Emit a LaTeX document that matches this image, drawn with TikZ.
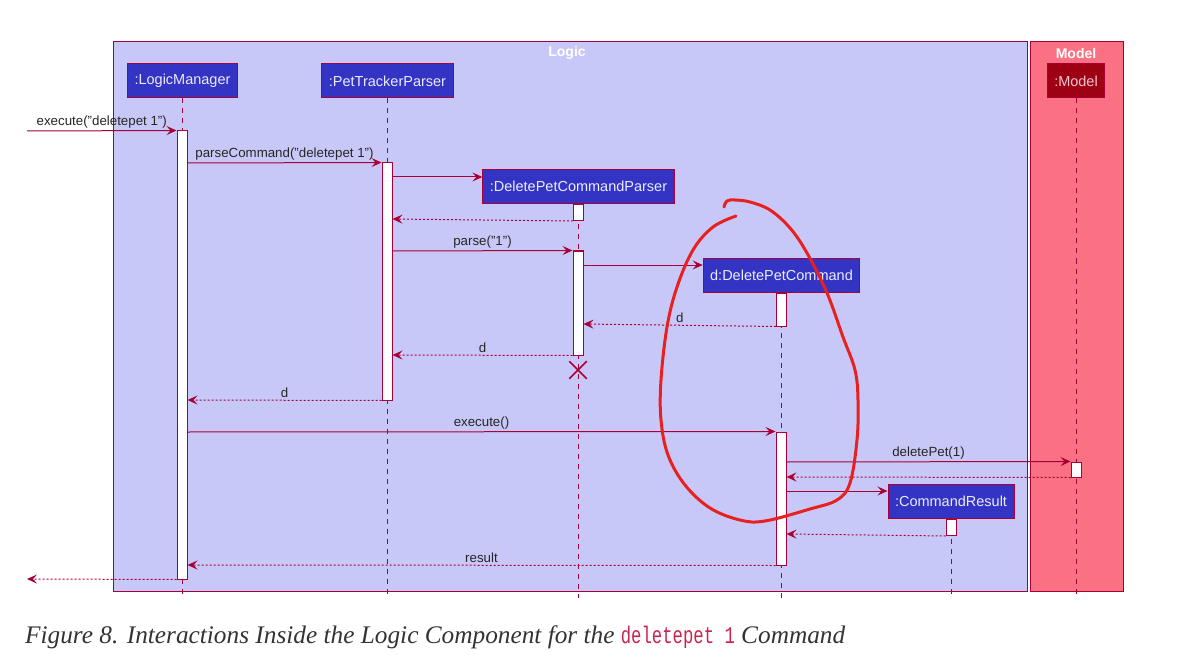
\documentclass[tikz,border=0pt]{standalone}
\usepackage{fontspec}
\setmainfont{Liberation Sans}
\newfontfamily\capfont{Liberation Serif}
\newfontfamily\codefont[FakeStretch=0.72]{Liberation Mono}
\usetikzlibrary{arrows.meta, positioning, shapes.misc}
\definecolor{crim}{HTML}{A80036}
\definecolor{logicbg}{HTML}{C8C8F8}
\definecolor{modelbg}{HTML}{F97182}
\definecolor{partblue}{HTML}{3333C4}
\definecolor{parttext}{HTML}{ECECFF}
\definecolor{modelbox}{HTML}{9E0014}
\definecolor{modeltext}{HTML}{F4C8D0}
\definecolor{pen}{HTML}{E82020}
\definecolor{codered}{HTML}{C7254E}
\tikzset{
  part/.style={draw=crim, fill=partblue, text=parttext, font=\fontsize{14.5}{16}\selectfont, line width=1pt, minimum height=34pt, inner xsep=7pt},
  act/.style={draw=crim, fill=white, line width=1pt, minimum width=10pt, inner sep=0pt},
  life/.style={draw=crim, line width=1pt, dash pattern=on 5pt off 5pt},
  msg/.style={draw=crim, line width=1pt, -{Stealth[length=10pt, width=9pt, inset=4pt]}},
  ret/.style={msg, dash pattern=on 2pt off 2pt},
  lbl/.style={draw=none, fill=none, text=black!85, font=\fontsize{13.3}{15}\selectfont, inner sep=2pt},
  ftitle/.style={text=white, font=\bfseries\fontsize{14}{16}\selectfont}
}

\begin{document}
\begin{tikzpicture}[x=1pt, y=-1pt]
  \useasboundingbox (0,0) rectangle (1178,655);
  % Frames
  \filldraw[fill=logicbg, draw=crim, line width=1pt] (113,42) rectangle (1027,591);
  \filldraw[fill=modelbg, draw=crim, line width=1pt] (1030,42) rectangle (1123,591);
  \node (logicT) [ftitle] at (567,53) {Logic};
  \node (modelT) [ftitle] at (1076,53) {Model};

  % Nodes
  \node (lm) [part] at (182.5,81) {:LogicManager};
  \node (ptp) [part] at (387.5,81) {:PetTrackerParser};
  \node (dpcp) [part] at (578.5,186.5) {:DeletePetCommandParser};
  \node (dpc) [part] at (781.5,275) {d:DeletePetCommand};
  \node (cr) [part] at (951,501.5) {:CommandResult};
  \node (model) [part, fill=modelbox, text=modeltext] at (1076,81) {:Model};

  \coordinate (bot) at (0,598);
  \foreach \p in {lm, ptp, dpcp, dpc, cr, model}
    \draw[life] (\p.south) -- (\p.south |- bot);

  % Activation bars
  \node (lmA) [act, minimum height=448] at (182,355) {};
  \node (ptpA) [act, minimum height=237] at (387,281.5) {};
  \node (dpcpA1) [act, minimum height=16, below=0pt of dpcp] {};
  \node (dpcpA2) [act, minimum height=104] at (578,303) {};
  \node (dpcA1) [act, minimum height=33, below=0pt of dpc] {};
  \node (dpcA2) [act, minimum height=133] at (781,498.5) {};
  \node (modelA) [act, minimum height=15] at (1076,469.5) {};
  \node (crA) [act, minimum height=16, below=0pt of cr] {};
  \node (destroy) [cross out, draw=crim, line width=1.5pt, minimum size=16pt, inner sep=0pt] at (578,370) {};

  % Messages
  \coordinate (in) at (27,131);
  \coordinate (out) at (27,579);
  \foreach \m/\y in {m2/163, m3/177, m4/219, m5/251, m6/265, m7/324, m8/355, m9/400,
                     m10/432, m11/462, m12/477, m13/491, m14/534, m15/565}
    \coordinate (\m) at (0,\y);

  \draw[msg] (in) -- (lmA.north west) node[midway, above, lbl] {execute("deletepet 1")};
  \draw[msg] (lmA.east |- m2) -- (ptpA.north west) node[midway, above, lbl] {parseCommand("deletepet 1")};
  \draw[msg] (ptpA.east |- m3) -- (dpcp.west |- m3);
  \draw[ret] (dpcpA1.south west) -- (ptpA.east |- m4);
  \draw[msg] (ptpA.east |- m5) -- (dpcpA2.north west) node[midway, above, lbl] {parse("1")};
  \draw[msg] (dpcpA2.east |- m6) -- (dpc.west |- m6);
  \draw[ret] (dpcA1.south west) -- (dpcpA2.east |- m7) node[midway, above, lbl] {d};
  \draw[ret] (dpcpA2.south west) -- (ptpA.east |- m8) node[midway, above, lbl] {d};
  \draw[ret] (ptpA.south west) -- (lmA.east |- m9) node[midway, above, lbl] {d};
  \draw[msg] (lmA.east |- m10) -- (dpcA2.north west) node[midway, above, lbl] {execute()};
  \draw[msg] (dpcA2.east |- m11) -- (modelA.north west) node[midway, above, lbl] {deletePet(1)};
  \draw[ret] (modelA.south west) -- (dpcA2.east |- m12);
  \draw[msg] (dpcA2.east |- m13) -- (cr.west |- m13);
  \draw[ret] (crA.south west) -- (dpcA2.east |- m14);
  \draw[ret] (dpcA2.south west) -- (lmA.east |- m15) node[midway, above, lbl] {result};
  \draw[ret] (lmA.south west) -- (out);

  % Hand-drawn mark
  \draw[pen, line width=3pt, line cap=round, line join=round] plot[smooth, tension=0.6] coordinates {
    (736,216) (713,227) (693,250) (677,287) (667,327) (661,380) (661,420) (668,455)
    (685,485) (710,508) (740,520) (765,521) (810,509) (837,500) (850,483) (857,440)
    (858,400) (855,370) (843,337) (827,293) (807,253) (790,228) (770,210) (750,202)
    (735,200) (727,201) (724,207)};

  % Caption
  \node (caption) [anchor=base west, inner sep=0pt, text=black!80, font=\capfont\itshape\fontsize{25.3}{30}\selectfont] at (25,643)
    {Figure 8. Interactions Inside the Logic Component for the {\codefont\upshape\fontsize{24}{28}\selectfont\color{codered}deletepet 1} Command};
\end{tikzpicture}
\end{document}
